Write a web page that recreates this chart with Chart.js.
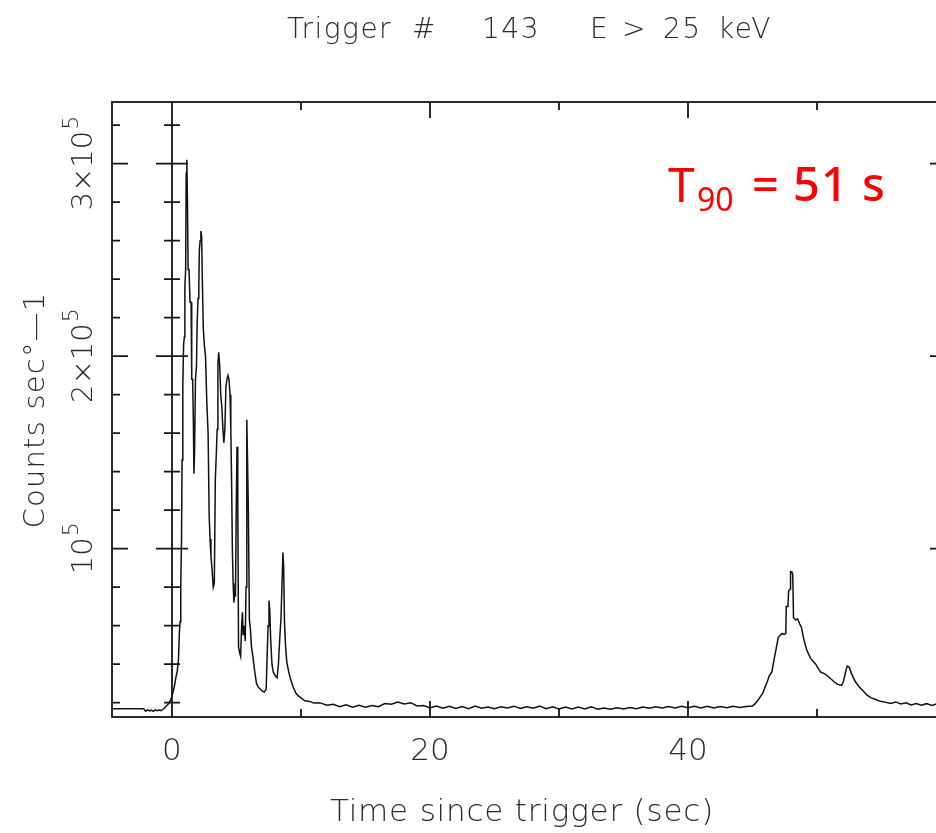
<!DOCTYPE html>
<html lang="en">
<head>
<meta charset="UTF-8">
<title>Trigger 143 light curve</title>
<script src="https://cdn.jsdelivr.net/npm/chart.js"></script>
<style>
  html, body { margin: 0; padding: 0; background: #fff; overflow: hidden; }
  #wrap { position: relative; width: 960px; height: 833px; }
</style>
</head>
<body>
<div id="wrap"><canvas id="lightCurve"></canvas></div>
<script>
// time since trigger (s) and rate (counts/s), E > 25 keV
var times = [
  -4.65, -4.2, -3.8, -3.4, -3.0, -2.6, -2.2, -2.05, -1.9, -1.75, -1.6, -1.45, -1.3, -1.15, -1.0, -0.85, -0.7, -0.55, -0.4, -0.25, -0.1,
  0.0, 0.1, 0.2, 0.3, 0.4, 0.5, 0.57, 0.63, 0.68, 0.74, 0.78, 0.84, 0.90, 0.96, 1.00, 1.06, 1.10, 1.15, 1.20, 1.25, 1.32, 1.40, 1.48,
  1.53, 1.60, 1.66, 1.70, 1.75, 1.82, 1.90, 1.95, 2.02, 2.08, 2.12, 2.18, 2.24, 2.30, 2.35, 2.43, 2.52, 2.60, 2.70, 2.80, 2.88, 2.95,
  3.02, 3.10, 3.20, 3.28, 3.36, 3.44, 3.50, 3.56, 3.62, 3.70, 3.78, 3.86, 3.95, 4.02, 4.10, 4.18, 4.26, 4.34, 4.42, 4.50, 4.56, 4.62,
  4.68, 4.74, 4.80, 4.86, 4.92, 4.98, 5.04, 5.10, 5.16, 5.24, 5.32, 5.40, 5.46, 5.52, 5.60, 5.68, 5.74, 5.80, 5.86, 5.92, 6.00, 6.08,
  6.16, 6.25, 6.40, 6.55, 6.70, 6.85, 7.00, 7.15, 7.30, 7.38, 7.45, 7.52, 7.58, 7.65, 7.75, 7.85, 8.00, 8.15, 8.25, 8.35, 8.45, 8.52,
  8.60, 8.66, 8.72, 8.80, 8.90, 9.05, 9.20, 9.40, 9.60, 9.80,
  10.0, 10.3, 10.6, 11.0, 11.5, 12.0, 12.5, 13.0, 13.5, 14.0, 14.5, 15.0, 15.5, 16.0, 16.5, 17.0, 17.5, 18.0, 18.5, 19.0, 19.5,
  20.0, 20.5, 21.0, 21.5, 22.0, 22.5, 23.0, 23.5, 24.0, 24.5, 25.0, 25.5, 26.0, 26.5, 27.0, 27.5, 28.0, 28.5, 29.0, 29.5,
  30.0, 30.5, 31.0, 31.5, 32.0, 32.5, 33.0, 33.5, 34.0, 34.5, 35.0, 35.5, 36.0, 36.5, 37.0, 37.5, 38.0, 38.5, 39.0, 39.5,
  40.0, 40.5, 41.0, 41.5, 42.0, 42.5, 43.0, 43.5, 44.0, 44.5, 45.0, 45.2, 45.4, 45.6, 45.8, 46.0, 46.15, 46.3, 46.5, 46.66,
  46.86, 47.0, 47.15, 47.3, 47.45, 47.58, 47.62, 47.75, 47.8, 47.92, 47.95, 48.05, 48.12, 48.18, 48.35, 48.5, 48.65, 48.8,
  48.97, 49.2, 49.5, 49.9, 50.26, 50.6, 50.9, 51.3, 51.6, 51.9, 52.05, 52.25, 52.35, 52.5, 52.65, 52.96, 53.3, 53.6, 53.86,
  54.2, 54.5, 54.9, 55.3, 55.7, 56.1, 56.5, 56.9, 57.3, 57.7, 58.1, 58.5, 58.9, 59.3, 59.7, 60.0
];
var counts = [
  16900, 16900, 16800, 16900, 16900, 16800, 16900, 15600, 16300, 15700, 16100, 15500, 16300, 15800, 16200, 15900, 16600, 17400, 18500, 19600, 21500,
  23500, 26000, 29000, 33000, 36000, 42000, 56000, 62000, 80000, 105000, 146000, 185000, 206000, 210000, 236000, 245000, 295000, 302000, 280000, 245000, 245000, 228000, 228000,
  188000, 188000, 165000, 139000, 150000, 188000, 195000, 217000, 230000, 236000, 255000, 260000, 265000, 262000, 240000, 214000, 205000, 200000, 176000, 160000, 118000, 105000,
  96000, 90000, 80000, 82000, 136000, 150000, 162000, 195000, 202000, 195000, 180000, 174000, 162000, 155000, 162000, 184000, 188000, 190000, 188000, 180000, 162000, 135000,
  100000, 82000, 72000, 78000, 75000, 120000, 153000, 125000, 49000, 46000, 44000, 60000, 67000, 55000, 60000, 52000, 80000, 167000, 145000, 120000, 63000, 58000,
  49000, 45000, 37000, 30000, 28000, 27000, 26000, 25500, 27000, 45000, 60000, 73000, 68000, 53000, 40000, 36000, 34000, 33000, 40000, 53000, 64000, 80000,
  98000, 90000, 62000, 50000, 41000, 36000, 32000, 28000, 25000, 23500,
  22500, 21000, 20800, 19800, 19900, 18700, 19200, 17900, 18900, 17700, 18600, 17600, 18500, 17900, 19600, 19200, 20300, 19300, 20000, 18300, 18500,
  17300, 18300, 17100, 18100, 17000, 18000, 16900, 18200, 17100, 17800, 16900, 17900, 17300, 18200, 17000, 17900, 17100, 18200, 16900, 17900,
  16800, 17800, 16700, 17700, 16800, 17900, 16600, 17300, 16600, 17400, 16700, 17500, 16900, 17700, 17100, 17900, 17200, 18000, 17300, 18100,
  17400, 18200, 17300, 18100, 17200, 18000, 17400, 18100, 17500, 18000, 18300, 19500, 21000, 23000, 25000, 28500, 31000, 34000, 36000, 42000,
  49000, 54000, 55000, 56000, 55500, 56000, 70000, 70000, 78000, 79000, 88000, 88000, 86500, 64000, 63000, 63500, 61000, 59000,
  53000, 47500, 43000, 40000, 36000, 35000, 33500, 31000, 29500, 29000, 31000, 37000, 39000, 38500, 35500, 31000, 28000, 26000, 24000,
  22500, 21800, 20700, 20300, 19600, 20400, 19300, 19900, 18800, 19600, 18700, 19500, 18600, 19400, 18800, 19200
];

// axis ticks and labels
var xMajorTicks = [0, 20, 40, 60];
var xMinorTicks = [10, 30, 50];
var xTickLabels = ['0', '20', '40'];
var yMajorTicks = [100000, 200000, 300000];
var yMinorTicks = [20000, 40000, 60000, 80000, 120000, 140000, 160000, 180000, 220000, 240000, 260000, 280000, 320000];
var yTickBase = ['10', '2\u00d710', '3\u00d710'];
var yTickExp = '5';

// title words and their left edges
var titleWords = ['Trigger', '#', '143', 'E', '>', '25', 'keV'];
var titleLeft = [287, 412, 482, 590, 622, 663, 718];
var xTitle = 'Time since trigger (sec)';
var yTitle = 'Counts sec\u00b0\u20141';

var lineFont = '"DejaVu Sans", sans-serif';
var ink = '#2b2b2b';

// frame, ticks on all four sides plus the t = 0 line, and all the text
var framePlugin = {
  id: 'frame',
  afterDraw: function (chart) {
    var ctx = chart.ctx;
    var a = chart.chartArea;
    var xs = chart.scales.x, ys = chart.scales.y;
    var x0 = xs.getPixelForValue(0);

    ctx.save();
    ctx.strokeStyle = '#151515';
    ctx.lineWidth = 1.8;
    ctx.strokeRect(a.left, a.top, a.right - a.left, a.bottom - a.top);

    ctx.beginPath();
    ctx.moveTo(x0, a.top);
    ctx.lineTo(x0, a.bottom);

    function yTick(v, len) {
      var py = ys.getPixelForValue(v);
      ctx.moveTo(a.left, py); ctx.lineTo(a.left + len, py);
      ctx.moveTo(a.right, py); ctx.lineTo(a.right - len, py);
      ctx.moveTo(x0 - len, py); ctx.lineTo(x0 + len, py);
    }
    function xTick(v, len) {
      var px = xs.getPixelForValue(v);
      ctx.moveTo(px, a.bottom); ctx.lineTo(px, a.bottom - len);
      ctx.moveTo(px, a.top); ctx.lineTo(px, a.top + len);
    }
    yMajorTicks.forEach(function (v) { yTick(v, 16); });
    yMinorTicks.forEach(function (v) { yTick(v, 8); });
    xMajorTicks.forEach(function (v) { xTick(v, 16); });
    xMinorTicks.forEach(function (v) { xTick(v, 8); });
    ctx.stroke();

    ctx.fillStyle = ink;
    ctx.textBaseline = 'alphabetic';

    // title
    ctx.font = '200 28px ' + lineFont;
    ctx.textAlign = 'left';
    ctx.letterSpacing = '1.5px';
    titleWords.forEach(function (w, i) { ctx.fillText(w, titleLeft[i], 38); });

    // x tick labels
    ctx.textAlign = 'center';
    ctx.letterSpacing = '0px';
    ctx.font = '200 31px ' + lineFont;
    xTickLabels.forEach(function (lab, i) {
      ctx.fillText(lab, xs.getPixelForValue(xMajorTicks[i]), 760);
    });

    // x title
    ctx.letterSpacing = '0.8px';
    ctx.fillText(xTitle, 522, 821);

    // y tick labels, rotated
    ctx.letterSpacing = '0px';
    yMajorTicks.forEach(function (v, i) {
      var py = ys.getPixelForValue(v);
      ctx.save();
      ctx.translate(92, py);
      ctx.rotate(-Math.PI / 2);
      ctx.font = '200 29px ' + lineFont;
      var wb = ctx.measureText(yTickBase[i]).width;
      ctx.font = '200 22px ' + lineFont;
      var we = ctx.measureText(yTickExp).width;
      var start = -(wb + we) / 2;
      ctx.textAlign = 'left';
      ctx.font = '200 29px ' + lineFont;
      ctx.fillText(yTickBase[i], start, 0);
      ctx.font = '200 22px ' + lineFont;
      ctx.fillText(yTickExp, start + wb + 1, -14);
      ctx.restore();
    });

    // y title, rotated
    ctx.save();
    ctx.translate(44, 410);
    ctx.rotate(-Math.PI / 2);
    ctx.font = '200 29px ' + lineFont;
    ctx.letterSpacing = '1.2px';
    ctx.textAlign = 'center';
    ctx.fillText(yTitle, 0, 0);
    ctx.restore();

    // duration annotation
    ctx.letterSpacing = '0px';
    ctx.fillStyle = '#ff0000';
    ctx.textAlign = 'left';
    ctx.font = '48px "Noto Sans", sans-serif';
    ctx.fillText('T', 668, 202);
    ctx.font = '32px "Noto Sans", sans-serif';
    ctx.fillText('90', 697, 211);
    ctx.font = '500 47px "Noto Sans", sans-serif';
    ctx.letterSpacing = '1px';
    ctx.fillText('= 51 s', 752, 201);

    ctx.restore();
  }
};

var points = times.map(function (t, i) { return { x: t, y: counts[i] }; });

var ctx = document.getElementById('lightCurve').getContext('2d');
var lightCurve = new Chart(ctx, {
  type: 'line',
  data: {
    datasets: [{
      label: 'Counts',
      data: points,
      borderColor: '#111',
      borderWidth: 1.5,
      pointRadius: 0,
      tension: 0,
      fill: false
    }]
  },
  options: {
    responsive: true,
    maintainAspectRatio: false,
    animation: false,
    layout: { padding: { left: 112, top: 102, right: 14, bottom: 116 } },
    scales: {
      x: { type: 'linear', min: -4.65, max: 60, display: false },
      y: { type: 'linear', min: 12570, max: 332050, display: false }
    },
    plugins: {
      legend: { display: false },
      tooltip: { enabled: false }
    }
  },
  plugins: [framePlugin]
});
</script>
</body>
</html>
